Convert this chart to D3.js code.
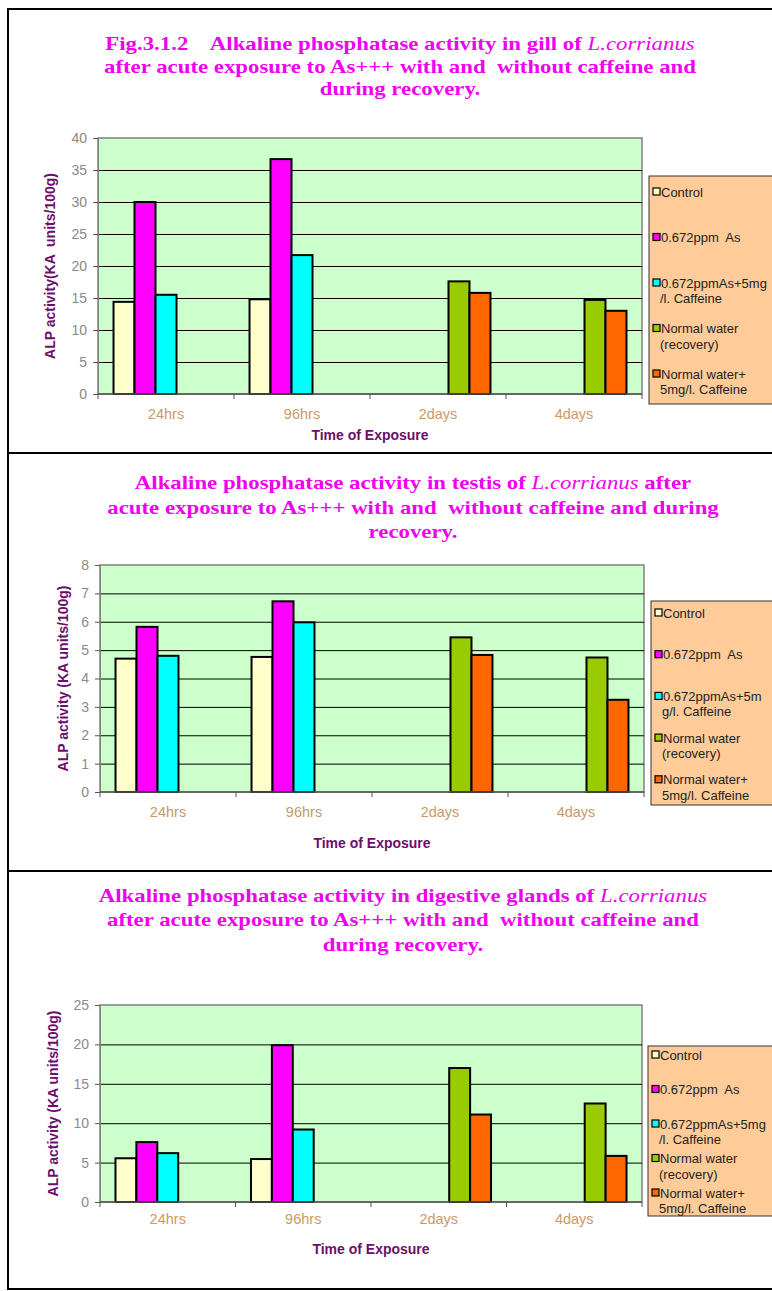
<!DOCTYPE html>
<html>
<head>
<meta charset="utf-8">
<script src="https://cdn.jsdelivr.net/npm/d3@7"></script>
<style>
  body { margin: 0; background: #fff; }
  svg { display: block; }
  text { white-space: pre; }
</style>
</head>
<body>
<script>
const W = 772;
const H = 1291;

// categories on the x axis
const categories = ["24hrs", "96hrs", "2days", "4days"];
const seriesColors = ["#FFFFCC", "#FF00FF", "#00FFFF", "#99CC00", "#FF6600"];

// gill
const gillControl = [14.4, 14.8, null, null];
const gillAs = [30.0, 36.7, null, null];
const gillAsCaffeine = [15.5, 21.7, null, null];
const gillRecovery = [null, null, 17.6, 14.7];
const gillRecoveryCaffeine = [null, null, 15.8, 13.0];
const gillTicks = [0, 5, 10, 15, 20, 25, 30, 35, 40];

// testis
const testisControl = [4.7, 4.76, null, null];
const testisAs = [5.82, 6.72, null, null];
const testisAsCaffeine = [4.8, 5.98, null, null];
const testisRecovery = [null, null, 5.45, 4.74];
const testisRecoveryCaffeine = [null, null, 4.83, 3.25];
const testisTicks = [0, 1, 2, 3, 4, 5, 6, 7, 8];

// digestive glands
const digestControl = [5.55, 5.45, null, null];
const digestAs = [7.6, 19.9, null, null];
const digestAsCaffeine = [6.2, 9.2, null, null];
const digestRecovery = [null, null, 17.0, 12.5];
const digestRecoveryCaffeine = [null, null, 11.1, 5.85];
const digestTicks = [0, 5, 10, 15, 20, 25];

// legend labels (line breaks as in the original)
const legendGill = [["Control"], ["0.672ppm  As"], ["0.672ppmAs+5mg", "/l. Caffeine"], ["Normal water", "(recovery)"], ["Normal water+", "5mg/l. Caffeine"]];
const legendTestis = [["Control"], ["0.672ppm  As"], ["0.672ppmAs+5m", "g/l. Caffeine"], ["Normal water", "(recovery)"], ["Normal water+", "5mg/l. Caffeine"]];
const legendDigest = [["Control"], ["0.672ppm  As"], ["0.672ppmAs+5mg", "/l. Caffeine"], ["Normal water", "(recovery)"], ["Normal water+", "5mg/l. Caffeine"]];

// titles: each line is a list of [text, italic]
const titleGill = [
  [["Fig.3.1.2    Alkaline phosphatase activity in gill of ", false], ["L.corrianus", true]],
  [["after acute exposure to As+++ with and  without caffeine and", false]],
  [["during recovery.", false]]
];
const titleTestis = [
  [["Alkaline phosphatase activity in testis of ", false], ["L.corrianus", true], [" after", false]],
  [["acute exposure to As+++ with and  without caffeine and during", false]],
  [["recovery.", false]]
];
const titleDigest = [
  [["Alkaline phosphatase activity in digestive glands of ", false], ["L.corrianus", true]],
  [["after acute exposure to As+++ with and  without caffeine and", false]],
  [["during recovery.", false]]
];

const panels = [
  {
    top: 9, bottom: 453,
    title: titleGill, titleY: [50, 73, 95], titleX: 400,
    series: [gillControl, gillAs, gillAsCaffeine, gillRecovery, gillRecoveryCaffeine],
    ticks: gillTicks, yLabel: "ALP activity(KA  units/100g)", yLabelX: 50,
    plot: { x0: 98, x1: 642, y0: 138, y1: 394 },
    legend: { labels: legendGill, x: 649, y0: 176, y1: 404, first: 192, step: 45.5 },
    xTickY: 419, xTitleY: 440
  },
  {
    top: 453, bottom: 871,
    title: titleTestis, titleY: [489, 514, 538], titleX: 413,
    series: [testisControl, testisAs, testisAsCaffeine, testisRecovery, testisRecoveryCaffeine],
    ticks: testisTicks, yLabel: "ALP activity (KA units/100g)", yLabelX: 63,
    plot: { x0: 100, x1: 644, y0: 565, y1: 792 },
    legend: { labels: legendTestis, x: 651, y0: 601, y1: 805, first: 613, step: 41.7 },
    xTickY: 817, xTitleY: 848
  },
  {
    top: 871, bottom: 1289,
    title: titleDigest, titleY: [902, 926, 951], titleX: 403,
    series: [digestControl, digestAs, digestAsCaffeine, digestRecovery, digestRecoveryCaffeine],
    ticks: digestTicks, yLabel: "ALP activity (KA units/100g)", yLabelX: 53,
    plot: { x0: 100, x1: 642, y0: 1005, y1: 1202 },
    legend: { labels: legendDigest, x: 648, y0: 1046, y1: 1216, first: 1055, step: 34.5 },
    xTickY: 1224, xTitleY: 1254
  }
];

const svg = d3.select("body").append("svg").attr("width", W).attr("height", H);

//panel frames
panels.forEach(function (p) {
  svg.append("rect")
    .attr("x", 8).attr("y", p.top)
    .attr("width", W + 20).attr("height", p.bottom - p.top)
    .attr("fill", "none").attr("stroke", "#000").attr("stroke-width", 2);
});

panels.forEach(function (p) {
  let g = svg.append("g");

  //title, a bit stretched sideways like the scanned original
  let title = g.append("g")
    .attr("font-family", "Liberation Serif, Times New Roman, serif")
    .attr("font-size", 19.5)
    .attr("font-weight", "bold")
    .attr("fill", "#F000F0")
    .attr("transform", "translate(" + p.titleX + ",0) scale(1.17,1)");
  p.title.forEach(function (line, i) {
    let t = title.append("text")
      .attr("x", 0).attr("y", p.titleY[i])
      .attr("text-anchor", "middle");
    line.forEach(function (seg) {
      t.append("tspan")
        .text(seg[0])
        .attr("font-style", seg[1] ? "italic" : "normal")
        .attr("font-weight", seg[1] ? "normal" : "bold");
    });
  });

  let maxY = d3.max(p.ticks);
  let y = d3.scaleLinear().domain([0, maxY]).range([p.plot.y1, p.plot.y0]);
  let x0 = d3.scaleBand().domain(categories).range([p.plot.x0, p.plot.x1]);
  let x1 = d3.scaleBand().domain(d3.range(p.series.length))
    .range([0, x0.bandwidth()]).paddingOuter(0.74);

  //plot area
  g.append("rect")
    .attr("x", p.plot.x0).attr("y", p.plot.y0)
    .attr("width", p.plot.x1 - p.plot.x0).attr("height", p.plot.y1 - p.plot.y0)
    .attr("fill", "#CCFFCC").attr("stroke", "#808080").attr("stroke-width", 1.5);

  //gridlines
  g.append("g")
    .attr("transform", "translate(" + p.plot.x0 + ",0)")
    .call(d3.axisLeft(y).tickValues(p.ticks.filter(function (d) { return d > 0 && d < maxY; }))
      .tickSize(-(p.plot.x1 - p.plot.x0)).tickFormat(""))
    .call(function (s) {
      s.select(".domain").remove();
      s.selectAll("line").attr("stroke", "#000").attr("stroke-width", 1);
    });

  //bars
  let rows = categories.map(function (c, i) {
    return { cat: c, vals: p.series.map(function (s, k) { return { k: k, v: s[i] }; }) };
  });
  g.selectAll(".grp")
    .data(rows)
    .enter()
    .append("g")
    .attr("transform", function (d) { return "translate(" + x0(d.cat) + ",0)"; })
    .selectAll("rect")
    .data(function (d) { return d.vals.filter(function (e) { return e.v != null; }); })
    .enter()
    .append("rect")
    .attr("x", function (d) { return x1(d.k); })
    .attr("width", x1.bandwidth())
    .attr("y", function (d) { return y(d.v); })
    .attr("height", function (d) { return y(0) - y(d.v); })
    .attr("fill", function (d) { return seriesColors[d.k]; })
    .attr("stroke", "#000")
    .attr("stroke-width", 2);

  //y axis
  g.append("g")
    .attr("transform", "translate(" + p.plot.x0 + ",0)")
    .call(d3.axisLeft(y).tickValues(p.ticks).tickSize(5).tickPadding(6))
    .call(function (s) {
      s.select(".domain").attr("stroke", "#808080");
      s.selectAll("line").attr("stroke", "#555");
      s.selectAll("text").attr("fill", "#8a8a8a").attr("font-size", 14)
        .attr("font-family", "Liberation Sans, Arial, sans-serif");
    });

  //x axis
  let xa = g.append("g").attr("transform", "translate(0," + p.plot.y1 + ")");
  xa.append("line")
    .attr("x1", p.plot.x0).attr("x2", p.plot.x1)
    .attr("stroke", "#555").attr("stroke-width", 1.5);
  xa.selectAll(".tk")
    .data(categories.concat(["end"]))
    .enter()
    .append("line")
    .attr("x1", function (d, i) { return i < categories.length ? x0(d) : p.plot.x1; })
    .attr("x2", function (d, i) { return i < categories.length ? x0(d) : p.plot.x1; })
    .attr("y1", 0).attr("y2", 5)
    .attr("stroke", "#555");
  g.selectAll(".xl")
    .data(categories)
    .enter()
    .append("text")
    .text(function (d) { return d; })
    .attr("x", function (d) { return x0(d) + x0.bandwidth() / 2; })
    .attr("y", p.xTickY)
    .attr("text-anchor", "middle")
    .attr("font-family", "Liberation Sans, Arial, sans-serif")
    .attr("font-size", 14.5)
    .attr("fill", "#CC9966");

  //axis titles
  g.append("text")
    .text("Time of Exposure")
    .attr("x", (p.plot.x0 + p.plot.x1) / 2).attr("y", p.xTitleY)
    .attr("text-anchor", "middle")
    .attr("font-family", "Liberation Sans, Arial, sans-serif")
    .attr("font-size", 14).attr("font-weight", "bold")
    .attr("fill", "#6B0F6B");
  g.append("text")
    .text(p.yLabel)
    .attr("transform", "translate(" + p.yLabelX + "," + (p.plot.y0 + p.plot.y1) / 2 + ") rotate(-90)")
    .attr("text-anchor", "middle")
    .attr("dy", "0.35em")
    .attr("font-family", "Liberation Sans, Arial, sans-serif")
    .attr("font-size", 14).attr("font-weight", "bold")
    .attr("fill", "#6B0F6B");

  //legend
  let L = p.legend;
  g.append("rect")
    .attr("x", L.x).attr("y", L.y0)
    .attr("width", W - L.x + 20).attr("height", L.y1 - L.y0)
    .attr("fill", "#FFCC99").attr("stroke", "#333").attr("stroke-width", 1);
  let items = g.selectAll(".lg")
    .data(L.labels)
    .enter()
    .append("g")
    .attr("transform", function (d, i) { return "translate(" + L.x + "," + (L.first + i * L.step) + ")"; });
  items.append("rect")
    .attr("x", 4).attr("y", -4)
    .attr("width", 7).attr("height", 7)
    .attr("fill", function (d, i) { return seriesColors[i]; })
    .attr("stroke", "#000").attr("stroke-width", 1.2);
  items.append("text")
    .attr("font-family", "Liberation Sans, Arial, sans-serif")
    .attr("font-size", 13)
    .attr("fill", "#222")
    .selectAll("tspan")
    .data(function (d) { return d; })
    .enter()
    .append("tspan")
    .attr("x", function (d, i) { return i === 0 ? 12 : 11; })
    .attr("y", function (d, i) { return i * 15.5 + 4.5; })
    .text(function (d) { return d; });
});
</script>
</body>
</html>
